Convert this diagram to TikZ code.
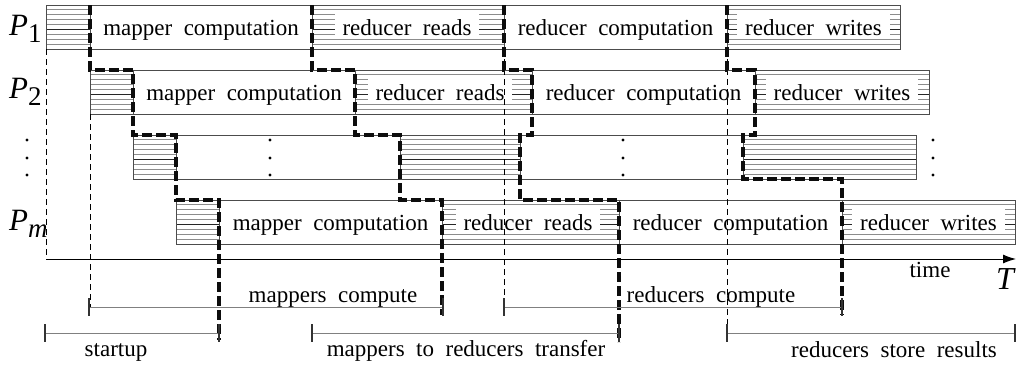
\documentclass[tikz,border=0pt]{standalone}
\usepackage{fontspec}
\setmainfont{Liberation Serif}
\usetikzlibrary{arrows.meta}
\definecolor{boxc}{gray}{0.3}
\definecolor{hatc}{gray}{0.55}
\newcommand{\widesp}{\spaceskip=0.5em\relax}
\tikzset{
  rowframe/.style={draw=boxc, line width=0.9pt},
  hatchline/.style={draw=hatc, line width=0.8pt},
  hatchdark/.style={draw=black!85, line width=0.8pt},
  lbl/.style={font=\fontsize{23}{25}\selectfont, execute at begin node={\widesp}, inner sep=0pt, anchor=base},
  hlbl/.style={lbl, fill=white, inner xsep=8pt, inner ysep=0pt, text height=22pt, text depth=1.5pt},
  thinsep/.style={draw=black, line width=0.8pt, dash pattern=on 6pt off 4pt},
  phase/.style={draw=black!95, line width=3.8pt, dash pattern=on 10pt off 4pt},
  spanline/.style={draw=gray, line width=1pt},
  tickmark/.style={draw=black!80, line width=1.6pt},
  plbl/.style={font=\fontsize{31}{31}\selectfont, inner sep=0pt, anchor=base west},
  dotnode/.style={circle, fill=black, inner sep=0pt, minimum size=3.3pt},
}
\newcommand{\hatchzone}[3]{%
  \foreach \k in {1,...,8}{\draw[hatchline] (#1,{#3+\k*4.889}) -- (#2,{#3+\k*4.889});}
  \draw[hatchdark] (#1,{#3+5*4.889}) -- (#2,{#3+5*4.889});
}
\newcommand{\procrow}[7]{%
  \hatchzone{#2}{#3}{#1}
  \hatchzone{#4}{#5}{#1}
  \hatchzone{#6}{#7}{#1}
  \draw[rowframe] (#2,#1) rectangle (#7,{#1+44});
  \foreach \bx in {#3,#4,#5,#6}{\draw[rowframe] (\bx,#1) -- (\bx,{#1+44});}
}
\newcommand{\subs}[1]{\raisebox{-7pt}{\fontsize{27}{27}\selectfont #1}}
\begin{document}
\begin{tikzpicture}[x=1pt,y=-1pt]
\useasboundingbox (0,0) rectangle (1016,365);

% ---- rows ----
\procrow{5}{46}{90}{312}{504}{727}{900}
\procrow{70}{90}{133}{355}{532}{755}{929}
\procrow{135}{133}{176}{400}{520}{743}{916}
\procrow{200}{176}{219}{442}{619}{842}{1015}

% ---- row labels ----
\node[plbl] (p1) at (9,35) {\textit{P}\subs{1}};
\node[plbl] (p2) at (9,98) {\textit{P}\subs{2}};
\node[plbl] (pm) at (9,230) {\textit{P}\subs{\textit{m}}};
\foreach \yy [count=\i] in {140,158,175}{
  \node[dotnode] (dl\i) at (27,\yy) {};
  \node[dotnode] (dm\i) at (270,\yy) {};
  \node[dotnode] (dc\i) at (623,\yy) {};
  \node[dotnode] (dr\i) at (933,\yy) {};
}

% ---- row texts ----
\node[lbl]  (r1map)   at (201,35.5)   {mapper computation};
\node[hlbl] (r1read)  at (407,35.5)   {reducer reads};
\node[lbl]  (r1comp)  at (615.5,35.5) {reducer computation};
\node[hlbl] (r1write) at (813.5,35.5) {reducer writes};

\node[lbl]  (r2map)   at (244,100.5)   {mapper computation};
\node[hlbl] (r2read)  at (440,100.5)   {reducer reads};
\node[lbl]  (r2comp)  at (643.5,100.5) {reducer computation};
\node[hlbl] (r2write) at (842,100.5)   {reducer writes};

\node[lbl]  (rmmap)   at (330.5,230.5) {mapper computation};
\node[hlbl] (rmread)  at (528,230.5)   {reducer reads};
\node[lbl]  (rmcomp)  at (730.5,230.5) {reducer computation};
\node[hlbl] (rmwrite) at (928.5,230.5) {reducer writes};

% ---- thin dashed guides ----
\draw[thinsep] (46,49) -- (46,259);
\draw[thinsep] (90,114) -- (90,307);
\draw[thinsep] (504,49) -- (504,307);
\draw[thinsep] (727,49) -- (727,333);

% ---- thick phase boundaries ----
\draw[phase] (90,5) -- (90,70) -- (133,70) -- (133,135) -- (176,135) -- (176,200) -- (219,200) -- (219,340);
\draw[phase] (312,5) -- (312,70) -- (355,70) -- (355,135) -- (400,135) -- (400,200) -- (442,200) -- (442,315);
\draw[phase] (504,5) -- (504,70) -- (532,70) -- (532,135) -- (520,135) -- (520,200) -- (619,200) -- (619,342);
\draw[phase] (727,5) -- (727,70) -- (755,70) -- (755,135) -- (743,135) -- (743,179) -- (842,179) -- (842,315);

% ---- time axis ----
\coordinate (ax0) at (46,259);
\coordinate (ax1) at (1016,259);
\draw[line width=1pt, -{Latex[length=13pt,width=9pt]}] (ax0) -- (ax1);
\node[lbl] (timel) at (930,277) {time};
\node[font=\fontsize{32}{32}\selectfont\itshape, inner sep=0pt, anchor=base] (tl) at (1005,289) {T};

% ---- spans ----
\foreach \a/\b/\yy/\nm in {89/443/307/mc, 504/842/307/rc, 45/219/333/st, 312/619/333/tr, 727/1015/333/sr}{
  \coordinate (\nm0) at (\a,\yy);
  \coordinate (\nm1) at (\b,\yy);
  \draw[spanline] (\nm0) -- (\nm1);
  \draw[tickmark] ([yshift=9pt]\nm0) -- ([yshift=-9pt]\nm0);
  \draw[tickmark] ([yshift=9pt]\nm1) -- ([yshift=-9pt]\nm1);
}
\node[lbl] (mcl) at (333,302) {mappers compute};
\node[lbl] (rcl) at (711,302) {reducers compute};
\node[lbl] (stl) at (116,356) {startup};
\node[lbl] (trl) at (466,356) {mappers to reducers transfer};
\node[lbl] (srl) at (894,357) {reducers store results};
\end{tikzpicture}
\end{document}
